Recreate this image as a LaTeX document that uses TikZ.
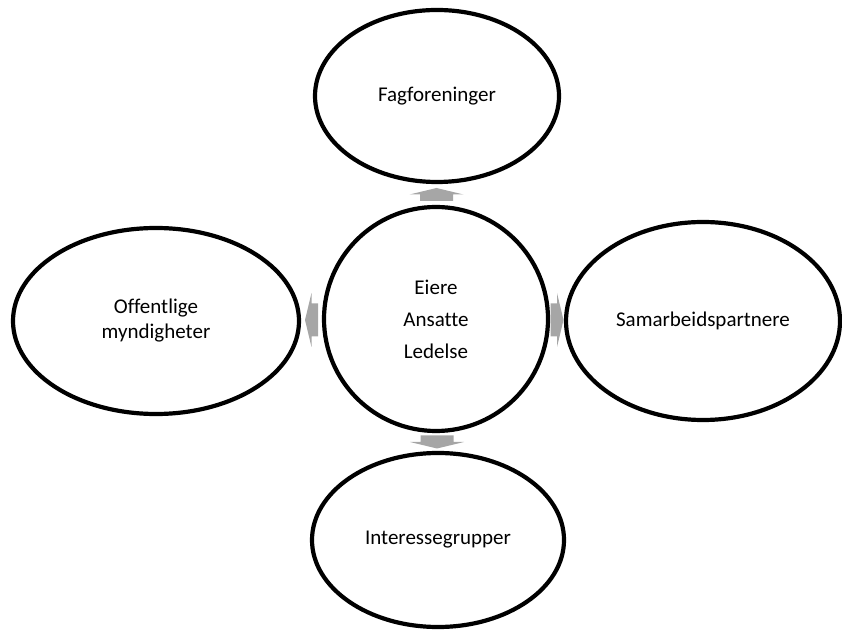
\documentclass[tikz,border=0pt]{standalone}
\usepackage{fontspec}
\setmainfont{Carlito}[Ligatures=NoCommon]
\usetikzlibrary{shapes}
\usetikzlibrary{calc}
\usetikzlibrary{positioning}

\definecolor{pilgraa}{HTML}{A6A6A6}
\tikzset{
  boble/.style={draw, line width=4.2pt, ellipse, inner sep=0pt, align=center,
    font=\fontsize{21}{25}\selectfont},
}
% blokkpil: #1 midtpunkt, #2 retning
\newcommand{\pil}[2]{%
  \fill[pilgraa, shift={(#1)}, rotate=#2]
    (-6.5,-16.5) -- (0,-16.5) -- (0,-27) -- (6.5,0) -- (0,27) -- (0,16.5) -- (-6.5,16.5) -- cycle;}

\begin{document}
\begin{tikzpicture}[x=1pt,y=1pt]
\useasboundingbox (0,0) rectangle (842,629);
% midten
\node[boble, circle, minimum size=224, font=\fontsize{21}{32}\selectfont] (midt) at (436,310) {Eiere\\Ansatte\\Ledelse};
% bobler rundt
\node[boble, minimum width=244, minimum height=172] (fag) at (437,533) {Fagforeninger};
\node[boble, minimum width=286, minimum height=186] (off) at (156,308) {Offentlige\\myndigheter};
\node[boble, minimum width=274, minimum height=198] (sam) at (703,308) {Samarbeidspartnere};
\node[boble, minimum width=252, minimum height=174] (int) at (438,89) {Interessegrupper};
% piler
\coordinate (pOpp) at ($(midt.north)!0.5!(fag.south)$);
\coordinate (pVen) at ($(midt.west)!0.5!(off.east)$);
\coordinate (pHoy) at ($(midt.east)!0.5!(sam.west)$);
\coordinate (pNed) at ($(midt.south)!0.5!(int.north)$);
\pil{pOpp}{90}
\pil{pVen}{180}
\pil{pHoy}{0}
\pil{pNed}{270}
\end{tikzpicture}
\end{document}
